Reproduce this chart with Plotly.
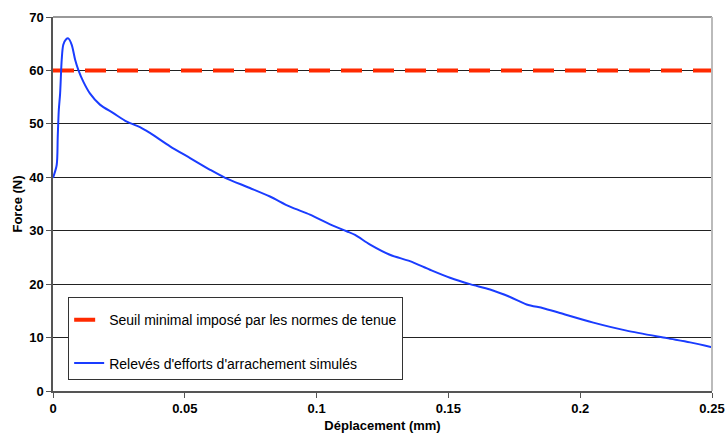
import plotly.graph_objects as go

# Data
disp_mm = [0.0000, 0.0014, 0.0018, 0.0022, 0.0027, 0.0033, 0.0039, 0.0049, 0.0058,
           0.0071, 0.0084, 0.0096, 0.0115, 0.0140, 0.0178, 0.0229, 0.0280, 0.0330,
           0.0368, 0.0444, 0.0520, 0.0596, 0.0653, 0.0747, 0.0823, 0.0899, 0.0975,
           0.1051, 0.1114, 0.1146, 0.1203, 0.1278, 0.1354, 0.1430, 0.1506, 0.1582,
           0.1658, 0.1734, 0.1797, 0.1860, 0.1923, 0.2050, 0.2176, 0.2328, 0.2417,
           0.2500]
force_n = [39.9, 42.3, 47.6, 52.6, 55.7, 62.0, 64.8, 65.8, 66.0,
           64.8, 62.0, 60.1, 57.9, 55.7, 53.6, 52.0, 50.4, 49.4,
           48.3, 45.8, 43.6, 41.4, 39.9, 38.0, 36.4, 34.5, 33.0,
           31.2, 29.9, 29.2, 27.4, 25.5, 24.3, 22.7, 21.2, 20.0,
           19.0, 17.6, 16.2, 15.5, 14.6, 12.8, 11.3, 9.9, 9.1,
           8.2]
threshold_x = [0.0, 0.25]
threshold_y = [60, 60]

x_ticks = [0, 0.05, 0.1, 0.15, 0.2, 0.25]
x_tick_labels = ["0", "0.05", "0.1", "0.15", "0.2", "0.25"]
y_ticks = [0, 10, 20, 30, 40, 50, 60, 70]
y_tick_labels = ["0", "10", "20", "30", "40", "50", "60", "70"]

name_threshold = "Seuil minimal imposé par les normes de tenue"
name_curve = "Relevés d'efforts d'arrachement simulés"

fig = go.Figure()
fig.add_trace(go.Scatter(
    x=threshold_x, y=threshold_y, mode="lines", name=name_threshold,
    line=dict(color="#FF2A00", width=4, dash="21px,11px"),
    legendgroup="a",
))
fig.add_trace(go.Scatter(
    x=disp_mm, y=force_n, mode="lines", name=name_curve,
    line=dict(color="#1A3CFF", width=2, shape="spline", smoothing=0.8),
    legendgroup="b",
))

font_family = "Liberation Sans, Arial, sans-serif"

fig.update_layout(
    width=727, height=433,
    margin=dict(l=53, r=15, t=17, b=42),
    paper_bgcolor="white", plot_bgcolor="white",
    font=dict(family=font_family, color="black", size=13),
    showlegend=True,
    legend=dict(
        x=0.023, y=0.252, xanchor="left", yanchor="top",
        bgcolor="white", bordercolor="#333333", borderwidth=1,
        font=dict(size=14, family=font_family, color="black"),
        traceorder="grouped", tracegroupgap=22,
        itemwidth=30,
        title=dict(text=" ", font=dict(size=5)),
    ),
    xaxis=dict(
        range=[0, 0.25], tickvals=x_ticks,
        ticktext=["<b>%s</b>" % t for t in x_tick_labels],
        showgrid=False, zeroline=False, automargin=False,
        showline=True, linecolor="#555555", linewidth=1.5,
        ticks="outside", ticklen=5, tickcolor="#555555",
        tickfont=dict(size=13, family=font_family, color="black"),
        title=dict(text="<b>Déplacement (mm)</b>", font=dict(size=13), standoff=7),
    ),
    yaxis=dict(
        range=[0, 70], tickvals=y_ticks,
        ticktext=["<b>%s</b>" % t for t in y_tick_labels],
        showgrid=True, gridcolor="#222222", gridwidth=1,
        zeroline=False, automargin=False,
        showline=True, linecolor="#555555", linewidth=1.5,
        ticks="outside", ticklen=5, tickcolor="#555555",
        tickfont=dict(size=13, family=font_family, color="black"),
        title=dict(text="<b>Force (N)</b>", font=dict(size=13), standoff=4),
    ),
    shapes=[
        dict(type="line", xref="paper", yref="paper", x0=0, x1=1, y0=1, y1=1,
             line=dict(color="#999999", width=2), layer="above"),
        dict(type="line", xref="paper", yref="paper", x0=1, x1=1, y0=0, y1=1,
             line=dict(color="#BBBBBB", width=2), layer="above"),
    ],
)

fig.write_html(
    "out.html",
    config={"displayModeBar": False},
    post_script="document.body.style.margin='0';document.body.style.padding='0';",
)
